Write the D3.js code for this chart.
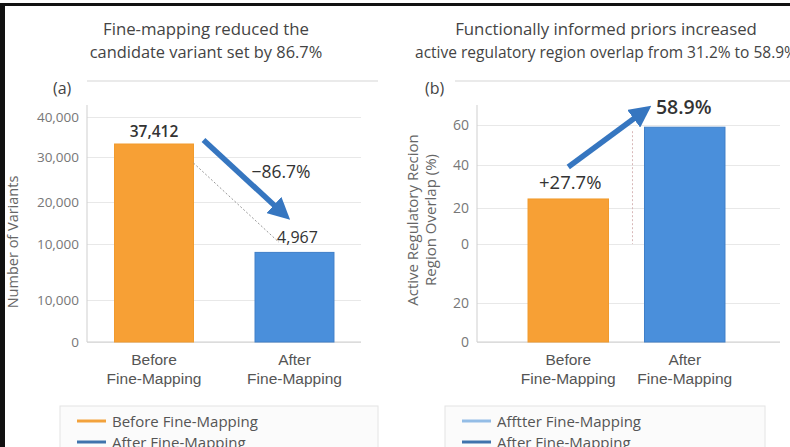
<!DOCTYPE html>
<html>
<head>
<meta charset="utf-8">
<script src="https://cdn.jsdelivr.net/npm/d3@7"></script>
<style>
  body { margin: 0; background: #fff; }
  svg { font-family: 'Open Sans', sans-serif; }
</style>
</head>
<body>
<svg id="chart" width="790" height="447"></svg>
<script>
// panel (a)
const catsA = ['Before Fine-Mapping', 'After Fine-Mapping'];
const barsA = [33250, 9100];             // bar heights as read on the axis
const labelsA = ['37,412', '4,967'];      // printed values
const ticksA = [0, 4000, 10000, 20000, 30000, 40000];
const tickLabelsA = ['0', '10,000', '10,000', '20,000', '30,000', '40,000'];

// panel (b)
const catsB = ['Before Fine-Mapping', 'After Fine-Mapping'];
const barsB = [24.2, 58.9];
const labelsB = ['+27.7%', '58.9%'];
const ticksB = [-50, -25, 0, 20, 40, 60];
const tickLabelsB = ['0', '20', '0', '20', '40', '60'];

const legendA = [['Before Fine-Mapping', '#f2a23c'], ['After Fine-Mapping', '#3f74ad']];
const legendB = [['Afftter Fine-Mapping', '#94bde6'], ['After Fine-Mapping', '#3f74ad']];

const orange = '#f7a035';
const blue = '#4a8fdb';
const arrowBlue = '#3676c0';

const svg = d3.select('#chart');

// frame
svg.append('rect').attr('x', 0).attr('y', 3).attr('width', 790).attr('height', 3).attr('fill', '#111');
svg.append('rect').attr('x', 0).attr('y', 3).attr('width', 5).attr('height', 444).attr('fill', '#111');

svg.append('defs').append('marker')
  .attr('id', 'head')
  .attr('viewBox', '0 0 10 10')
  .attr('refX', 5).attr('refY', 5)
  .attr('markerWidth', 4).attr('markerHeight', 4)
  .attr('orient', 'auto')
  .append('path').attr('d', 'M0,0 L10,5 L0,10 z').attr('fill', arrowBlue);

function panel(o) {
  const g = svg.append('g');
  const y = d3.scaleLinear().domain(o.ticks).range(o.tickPos);
  const x = d3.scaleBand().domain(o.cats).range(o.xRange)
    .paddingInner(o.pi).paddingOuter(o.po);
  const base = o.tickPos[0];

  // titles
  g.selectAll('.title').data(o.title).enter().append('text')
    .attr('x', o.titleX).attr('y', (d, i) => 35 + i * 23)
    .attr('text-anchor', 'middle')
    .style('font-size', (d, i) => o.titleSize[i] + 'px').style('fill', '#444')
    .text(d => d);

  g.append('text').attr('x', o.tagX).attr('y', 94)
    .style('font-size', '16px').style('fill', '#444').text(o.tag);

  // top rule
  g.append('line').attr('x1', o.topRule[0]).attr('x2', o.topRule[1])
    .attr('y1', 81).attr('y2', 81).attr('stroke', '#e3e3e3').attr('stroke-width', 1.5);

  // grid
  g.append('g')
    .attr('transform', `translate(${o.xRange[0]},0)`)
    .call(d3.axisLeft(y).tickValues(o.ticks).tickSize(-(o.gridEnd - o.xRange[0])).tickFormat(''))
    .call(a => a.select('.domain').remove())
    .call(a => a.selectAll('line').attr('stroke', '#e8e8e8'));

  // y axis
  const ya = g.append('g')
    .attr('transform', `translate(${o.xRange[0]},0)`)
    .call(d3.axisLeft(y).tickValues(o.ticks).tickSize(0).tickPadding(8)
      .tickFormat((d, i) => o.tickLabels[i]));
  ya.select('.domain').remove();
  ya.selectAll('text').style('font-size', o.tickSize + 'px').style('fill', '#777')
    .style('font-family', "'Open Sans', sans-serif");
  g.append('line').attr('x1', o.xRange[0]).attr('x2', o.xRange[0])
    .attr('y1', 105).attr('y2', base).attr('stroke', '#cfcfcf');
  g.append('line').attr('x1', o.xRange[0]).attr('x2', o.gridEnd)
    .attr('y1', base).attr('y2', base).attr('stroke', '#cfcfcf');

  // y label
  g.selectAll('.ylab').data(o.yLabel).enter().append('text')
    .attr('transform', (d, i) => `translate(${o.yLabelX[i]},${o.yLabelY}) rotate(-90)`)
    .attr('text-anchor', 'middle')
    .style('font-size', o.yLabelSize + 'px').style('fill', '#666')
    .text(d => d);

  // bars
  g.selectAll('.bar').data(o.bars).enter().append('rect')
    .attr('x', (d, i) => x(o.cats[i]))
    .attr('width', x.bandwidth())
    .attr('y', d => y(d))
    .attr('height', d => base - y(d))
    .attr('fill', (d, i) => i === 0 ? orange : blue)
    .attr('stroke', (d, i) => i === 0 ? '#f19a2c' : '#3f7fc8');

  // x labels
  const xa = g.append('g')
    .attr('transform', `translate(0,${base})`)
    .call(d3.axisBottom(x).tickSize(0).tickFormat(''));
  xa.select('.domain').remove();
  xa.selectAll('.tick').append('text')
    .style('font-size', '15.5px').style('fill', '#555')
    .attr('text-anchor', 'middle')
    .selectAll('tspan').data(d => d.split(' ')).enter().append('tspan')
    .attr('x', 0).attr('y', (d, i) => 23 + i * 19)
    .text(d => d);

  // legend
  const lg = g.append('g');
  lg.append('rect').attr('x', o.legendX[0]).attr('y', 406)
    .attr('width', o.legendX[1] - o.legendX[0]).attr('height', 60)
    .attr('fill', '#fbfbfb').attr('stroke', '#e4e4e4');
  const items = lg.selectAll('.item').data(o.legend).enter().append('g')
    .attr('transform', (d, i) => `translate(${o.legendX[0] + 17},${421 + i * 21})`);
  items.append('line').attr('x1', 0).attr('x2', 29)
    .attr('stroke', d => d[1]).attr('stroke-width', 3);
  items.append('text').attr('x', 35).attr('y', 5.5)
    .style('font-size', '15px').style('fill', '#555').text(d => d[0]);

  return { g, x, y };
}

const A = panel({
  cats: catsA, bars: barsA, ticks: ticksA, tickLabels: tickLabelsA, tickSize: 13.5,
  tickPos: [342, 300, 244, 202, 157, 117],
  xRange: [87, 361.5], pi: 0.438, po: 0.196, gridEnd: 361,
  title: ['Fine-mapping reduced the', 'candidate variant set by 86.7%'], titleX: 206,
  titleSize: [16.8, 16.4],
  tag: '(a)', tagX: 53, topRule: [87, 378],
  yLabel: ['Number of Variants'], yLabelX: [18], yLabelY: 242, yLabelSize: 14.5,
  legendX: [60, 378], legend: legendA
});

const B = panel({
  cats: catsB, bars: barsB, ticks: ticksB, tickLabels: tickLabelsB, tickSize: 14,
  tickPos: [342, 303, 244, 208, 165, 125],
  xRange: [477, 776], pi: 0.309, po: 0.438, gridEnd: 780,
  title: ['Functionally informed priors increased', 'active regulatory region overlap from 31.2% to 58.9%'], titleX: 606,
  titleSize: [16.8, 15.5],
  tag: '(b)', tagX: 425, topRule: [455, 790],
  yLabel: ['Active Regulatory Recion', 'Region Overlap (%)'], yLabelX: [418, 436], yLabelY: 220, yLabelSize: 15,
  legendX: [445, 765], legend: legendB
});

// annotations (a)
{
  const { g, x, y } = A;
  const bw = x.bandwidth();
  const x0 = x(catsA[0]), x1 = x(catsA[1]);
  g.append('line')
    .attr('x1', x0 + bw).attr('y1', y(barsA[0]) + 19)
    .attr('x2', x1 + 24).attr('y2', y(barsA[1]) - 10)
    .attr('stroke', '#999').attr('stroke-width', 1).attr('stroke-dasharray', '2,2');
  g.append('line')
    .attr('x1', x0 + bw + 10).attr('y1', y(barsA[0]) - 4)
    .attr('x2', x1 + 27).attr('y2', y(barsA[1]) - 40)
    .attr('stroke', arrowBlue).attr('stroke-width', 5.5)
    .attr('marker-end', 'url(#head)');
  g.selectAll('.val').data(labelsA).enter().append('text')
    .attr('x', (d, i) => x(catsA[i]) + bw / 2 + (i === 1 ? 3 : 0))
    .attr('y', (d, i) => y(barsA[i]) - (i === 0 ? 7 : 9))
    .attr('text-anchor', 'middle')
    .style('font-size', (d, i) => i === 0 ? '15.5px' : '16px')
    .style('font-weight', (d, i) => i === 0 ? 600 : 400)
    .style('fill', '#333')
    .text(d => d);
  g.append('text').attr('x', x1 + 26).attr('y', 178)
    .attr('text-anchor', 'middle')
    .style('font-size', '17.5px').style('fill', '#333')
    .text('\u221286.7%');
}

// annotations (b)
{
  const { g, x, y } = B;
  const bw = x.bandwidth();
  const x0 = x(catsB[0]), x1 = x(catsB[1]);
  g.append('line')
    .attr('x1', x1 - 12).attr('x2', x1 - 12)
    .attr('y1', y(barsB[1]) + 4).attr('y2', y(0))
    .attr('stroke', '#d8b8b8').attr('stroke-width', 1).attr('stroke-dasharray', '2,2');
  g.append('line')
    .attr('x1', x0 + bw / 2).attr('y1', y(barsB[0]) - 32)
    .attr('x2', x1 - 2).attr('y2', y(barsB[1]) - 15)
    .attr('stroke', arrowBlue).attr('stroke-width', 5.5)
    .attr('marker-end', 'url(#head)');
  g.selectAll('.val').data(labelsB).enter().append('text')
    .attr('x', (d, i) => x(catsB[i]) + bw / 2 + (i === 1 ? -1 : 2))
    .attr('y', (d, i) => y(barsB[i]) - (i === 0 ? 10 : 13))
    .attr('text-anchor', 'middle')
    .style('font-size', (d, i) => i === 0 ? '18.5px' : '19.5px')
    .style('font-weight', (d, i) => i === 0 ? 400 : 600)
    .style('fill', '#333')
    .text(d => d);
}
</script>
</body>
</html>
